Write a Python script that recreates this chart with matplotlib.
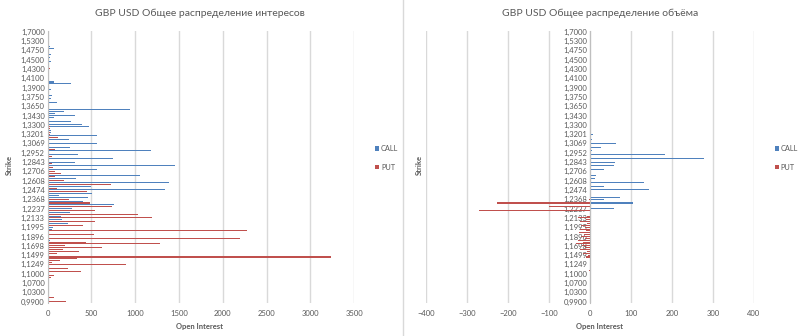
import matplotlib
matplotlib.use("Agg")
import matplotlib.pyplot as plt
from matplotlib.lines import Line2D
import numpy as np

plt.rcParams['font.family'] = ['Lato', 'DejaVu Sans']

# strike labels, top to bottom (every 5th category is labelled)
strike_labels = ["1,7000", "1,5300", "1,4750", "1,4500", "1,4300", "1,4100", "1,3900",
                 "1,3750", "1,3650", "1,3430", "1,3300", "1,3201", "1,3069", "1,2952",
                 "1,2843", "1,2706", "1,2608", "1,2474", "1,2368", "1,2237", "1,2133",
                 "1,1995", "1,1896", "1,1698", "1,1499", "1,1249", "1,1000", "1,0700",
                 "1,0300", "0,9900"]

# open interest, top to bottom, one row per labelled strike
oi_call = [
    13, 0, 0, 0, 13,
    10, 10, 13, 28, 74,
    0, 0, 36, 10, 23,
    0, 40, 0, 0, 0,
    0, 20, 8, 8, 0,
    0, 10, 70, 263, 0,
    8, 36, 10, 0, 51,
    0, 40, 0, 108, 0,
    0, 0, 937, 187, 85,
    312, 73, 0, 263, 0,
    396, 479, 0, 38, 35,
    0, 559, 0, 244, 0,
    559, 0, 256, 0, 1183,
    0, 343, 0, 745, 0,
    312, 0, 1460, 0, 559,
    0, 0, 1058, 0, 320,
    0, 1384, 0, 498, 0,
    1339, 0, 513, 130, 464,
    0, 403, 0, 759, 0,
    282, 0, 255, 0, 153,
    0, 165, 0, 229, 0,
    62, 55, 0, 0, 0,
    0, 0, 28, 0, 0,
    0, 0, 0, 0, 0,
    10, 0, 0, 0, 0,
    0, 0, 0, 0, 0,
    0, 0, 0, 0, 0,
    0, 0, 0, 0, 0,
    0, 0, 0, 0, 0,
    0,
]
oi_put = [
    0, 0, 0, 0, 0,
    0, 0, 0, 0, 0,
    0, 0, 0, 0, 0,
    0, 0, 0, 0, 0,
    28, 0, 0, 0, 0,
    0, 0, 0, 0, 0,
    0, 0, 0, 17, 0,
    0, 0, 0, 0, 0,
    0, 0, 0, 0, 0,
    0, 0, 10, 0, 8,
    0, 30, 33, 0, 28,
    30, 0, 119, 0, 8,
    0, 20, 0, 85, 0,
    10, 0, 47, 0, 10,
    0, 47, 0, 66, 0,
    82, 150, 0, 85, 0,
    188, 0, 722, 0, 104,
    0, 449, 0, 0, 0,
    244, 0, 486, 0, 740,
    0, 540, 0, 1028, 0,
    1195, 0, 540, 0, 403,
    0, 0, 2280, 0, 528,
    0, 2200, 0, 437, 1278,
    199, 619, 176, 362, 111,
    0, 3230, 331, 142, 51,
    899, 18, 233, 20, 385,
    20, 74, 36, 0, 8,
    8, 0, 0, 8, 0,
    0, 0, 8, 74, 0,
    210,
]

# volume, top to bottom (puts shown as negative)
vol_call = [0] * 55 + [
    8, 0, 0, 4, 0,
    64, 0, 28, 0, 6,
    0, 184, 0, 279, 0,
    61, 0, 59, 0, 35,
    0, 0, 15, 0, 11,
    0, 132, 0, 35, 0,
    143, 0, 0, 0, 73,
    35, 0, 105, 0, 0,
    58, 0, 0, 0, 0,
] + [0] * 46
vol_put = [0] * 90 + [
    -3, 0, -228, 0, -100,
    0, -271, 0, 0, -8,
    -30, -10, -25, -8, -22,
    -12, -25, -10, -28, -15,
    -22, -12, -30, -18, -35,
    -20, -12, -25, -8, -18,
    -5, -10, 0, 0, 0,
    0, 0, 0, -3, 0,
] + [0] * 16

CALL_COLOR = '#4f81bd'
PUT_COLOR = '#c0504d'
TXT = '#595959'
GRID = '#d9d9d9'

n = len(oi_call)
pos = np.arange(n)[::-1]
label_pos = pos[::5]

W, H = 800, 336
fig = plt.figure(figsize=(W / 100, H / 100), dpi=100)
bottom = (H - 302.6) / H
height = 271.8 / H
ax1 = fig.add_axes([47.5 / W, bottom, (354.3 - 47.5) / W, height])
ax2 = fig.add_axes([426 / W, bottom, (754 - 426) / W, height])

bar_h = 0.55
ax1.barh(pos, oi_call, height=bar_h, color=CALL_COLOR, label='CALL', zorder=3)
ax1.barh(pos, oi_put, height=bar_h, color=PUT_COLOR, label='PUT', zorder=3)
ax1.set_xlim(0, 3500)
ax1.set_xticks(np.arange(0, 3501, 500))

ax2.barh(pos, vol_call, height=bar_h, color=CALL_COLOR, label='CALL', zorder=3)
ax2.barh(pos, vol_put, height=bar_h, color=PUT_COLOR, label='PUT', zorder=3)
ax2.set_xlim(-400, 400)
ax2.set_xticks(np.arange(-400, 401, 100))
ax2.spines['left'].set_position(('data', 0))

for ax in (ax1, ax2):
    ax.set_ylim(-0.5, n - 0.5)
    ax.set_yticks(label_pos)
    ax.set_yticklabels(strike_labels)
    ax.grid(axis='x', color=GRID, lw=1, zorder=0)
    ax.set_axisbelow(True)
    for s in ('top', 'right', 'bottom'):
        ax.spines[s].set_visible(False)
    ax.spines['left'].set_color('#bfbfbf')
    ax.spines['left'].set_linewidth(0.8)
    ax.spines['left'].set_zorder(4)
    ax.tick_params(axis='both', length=0, labelsize=5.5, labelcolor=TXT)
    ax.tick_params(axis='x', pad=5)
    ax.tick_params(axis='y', pad=2)
    ax.legend(loc='center left', bbox_to_anchor=(ax.get_position().x1 + 16 / W, 178 / H),
              bbox_transform=fig.transFigure, frameon=False, fontsize=5.3,
              handlelength=0.5, handleheight=0.5, handletextpad=0.25,
              labelspacing=1.6, labelcolor=TXT, borderpad=0.2)

fig.text(200 / W, 1 - 13 / H, 'GBP USD Общее распределение интересов',
         ha='center', va='center', fontsize=7.5, color=TXT)
fig.text(600 / W, 1 - 13 / H, 'GBP USD Общее распределение объёма',
         ha='center', va='center', fontsize=7.5, color=TXT)
fig.text(200 / W, 1 - 326 / H, 'Open Interest', ha='center', va='center',
         fontsize=5.5, fontweight='bold', color=TXT)
fig.text(600 / W, 1 - 326 / H, 'Open Interest', ha='center', va='center',
         fontsize=5.5, fontweight='bold', color=TXT)
fig.text(9 / W, 1 - 165 / H, 'Strike', ha='center', va='center', rotation=90,
         fontsize=5.5, fontweight='bold', color=TXT)
fig.text(419 / W, 1 - 165 / H, 'Strike', ha='center', va='center', rotation=90,
         fontsize=5.5, fontweight='bold', color=TXT)

fig.add_artist(Line2D([403 / W, 403 / W], [0, 1], transform=fig.transFigure,
                      color=GRID, lw=1))

fig.savefig('out.png', dpi=100)
